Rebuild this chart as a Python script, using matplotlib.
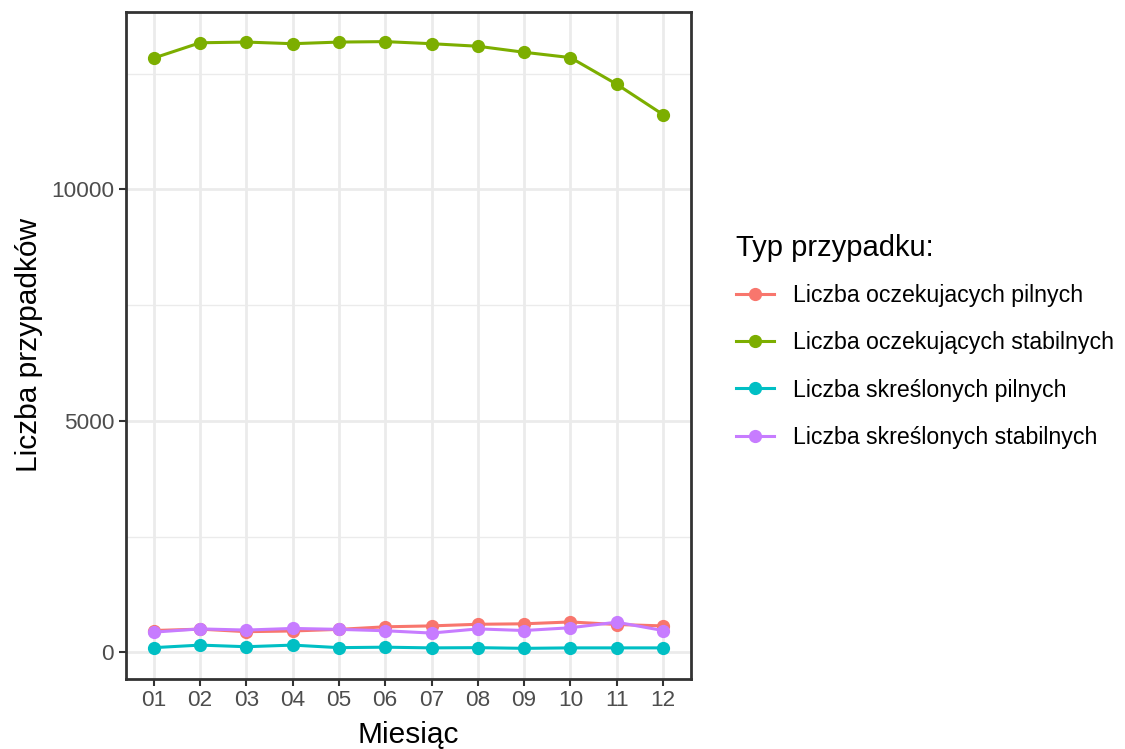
import matplotlib.pyplot as plt
import numpy as np

plt.rcParams['font.family'] = ['Liberation Sans', 'DejaVu Sans']

# data
months = ['01', '02', '03', '04', '05', '06', '07', '08', '09', '10', '11', '12']
oczek_pilne = [470, 500, 445, 460, 495, 550, 570, 605, 615, 655, 600, 570]
oczek_stabilne = [12835, 13165, 13180, 13145, 13180, 13190, 13145, 13090, 12960, 12845, 12270, 11615]
skresl_pilne = [100, 155, 120, 155, 100, 110, 95, 100, 85, 95, 95, 95]
skresl_stabilne = [435, 505, 480, 515, 495, 465, 415, 505, 470, 530, 650, 470]

series = [
    ('Liczba oczekujacych pilnych', oczek_pilne, '#F8766D'),
    ('Liczba oczekujących stabilnych', oczek_stabilne, '#7CAE00'),
    ('Liczba skreślonych pilnych', skresl_pilne, '#00BFC4'),
    ('Liczba skreślonych stabilnych', skresl_stabilne, '#C77CFF'),
]

fig = plt.figure(figsize=(11.25, 7.49), dpi=100)
ax = fig.add_axes([0.112, 0.0939, 0.502, 0.8901])

x = np.arange(1, len(months) + 1)
for name, vals, col in series:
    ax.plot(x, vals, color=col, lw=2.2, marker='o', ms=8.5, label=name)

ax.set_xlim(0.4, 12.6)
ax.set_ylim(-570, 13830)
ax.set_xticks(x)
ax.set_xticklabels(months)
ax.set_yticks([0, 5000, 10000])
ax.set_yticks([2500, 7500, 12500], minor=True)
ax.tick_params(axis='both', which='major', labelsize=16.2, labelcolor='#4D4D4D',
               color='#333333', width=1.5, length=5)
ax.tick_params(axis='y', which='minor', length=0)
ax.grid(True, which='major', color='#EBEBEB', lw=2)
ax.grid(True, which='minor', axis='y', color='#EBEBEB', lw=1)
ax.set_axisbelow(True)
for s in ax.spines.values():
    s.set_color('#333333')
    s.set_linewidth(2)

ax.set_xlabel('Miesiąc', fontsize=21.5, labelpad=7)
ax.set_ylabel('Liczba przypadków', fontsize=21.5, labelpad=6)

leg = ax.legend(title='Typ przypadku:', loc='center left', bbox_to_anchor=(1.043, 0.506),
                frameon=False, fontsize=16.7, title_fontsize=21,
                handlelength=1.65, handletextpad=0.8, labelspacing=1.05,
                alignment='left')
leg._legend_box.sep = 16

fig.savefig('out.png', dpi=100)
